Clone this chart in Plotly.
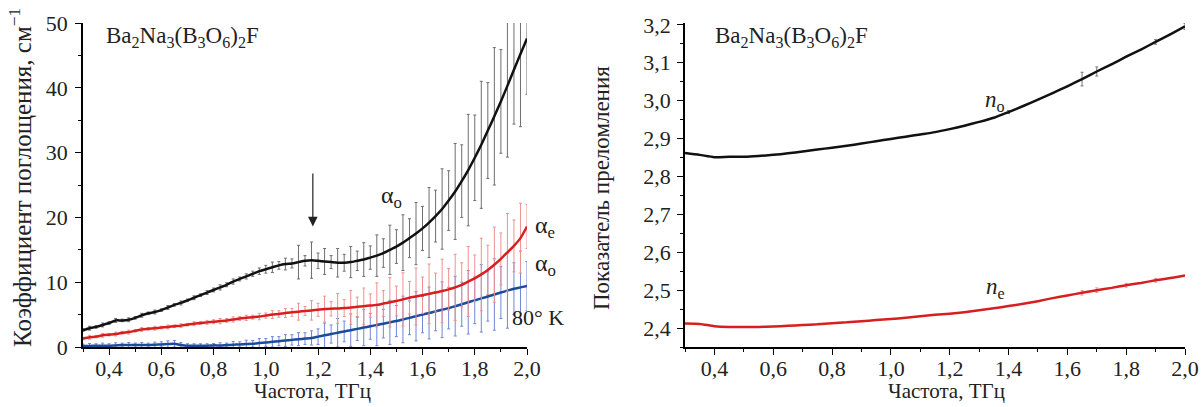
import plotly.graph_objects as go

# ---------------- data: left panel (absorption) ----------------
freq_a = [0.300, 0.325, 0.350, 0.375, 0.400, 0.425, 0.450, 0.475, 0.500, 0.525,
          0.550, 0.575, 0.600, 0.625, 0.650, 0.675, 0.700, 0.725, 0.750, 0.775,
          0.800, 0.825, 0.850, 0.875, 0.900, 0.925, 0.950, 0.975, 1.000, 1.025,
          1.050, 1.075, 1.100, 1.125, 1.150, 1.175, 1.200, 1.225, 1.250, 1.275,
          1.300, 1.325, 1.350, 1.375, 1.400, 1.425, 1.450, 1.475, 1.500, 1.525,
          1.550, 1.575, 1.600, 1.625, 1.650, 1.675, 1.700, 1.725, 1.750, 1.775,
          1.800, 1.825, 1.850, 1.875, 1.900, 1.925, 1.950, 1.975, 2.000]

alpha_o_room = [2.6, 2.9, 3.1, 3.4, 3.7, 4.1, 4.1, 4.2, 4.5, 4.9,
                5.2, 5.4, 5.7, 6.1, 6.5, 6.8, 7.2, 7.6, 8.0, 8.4,
                8.8, 9.2, 9.6, 10.1, 10.5, 10.9, 11.3, 11.7, 12.0, 12.3,
                12.6, 12.8, 12.9, 13.1, 13.3, 13.4, 13.3, 13.2, 13.1, 13.0,
                13.0, 13.1, 13.3, 13.5, 13.8, 14.1, 14.5, 15.0, 15.5, 16.1,
                16.8, 17.5, 18.3, 19.2, 20.2, 21.3, 22.6, 24.0, 25.6, 27.3,
                29.2, 31.2, 33.4, 35.6, 37.9, 40.3, 42.8, 45.2, 47.6]
alpha_o_room_err = [0.2, 0.3, 0.2, 0.3, 0.2, 0.3, 0.2, 0.3, 0.2, 0.3,
                    0.2, 0.3, 0.2, 0.3, 0.2, 0.3, 0.2, 0.3, 0.2, 0.3,
                    0.3, 0.4, 0.3, 0.4, 0.3, 0.4, 0.4, 0.5, 0.6, 0.8,
                    0.6, 0.9, 0.7, 2.6, 0.8, 2.8, 1.2, 2.0, 1.0, 2.2,
                    1.3, 2.4, 1.5, 2.6, 1.8, 3.2, 2.2, 3.8, 2.6, 4.3,
                    3.0, 4.8, 3.4, 5.4, 4.0, 6.2, 4.6, 7.4, 5.6, 8.6,
                    6.6, 9.8, 7.4, 10.6, 8.0, 11.0, 8.4, 11.2, 8.6]

alpha_e_room = [1.3, 1.5, 1.6, 1.8, 1.9, 2.0, 2.2, 2.3, 2.5, 2.7,
                2.8, 2.9, 3.0, 3.1, 3.2, 3.3, 3.45, 3.6, 3.7, 3.8,
                3.9, 4.0, 4.1, 4.25, 4.4, 4.5, 4.6, 4.7, 4.85, 5.0,
                5.1, 5.25, 5.35, 5.45, 5.55, 5.65, 5.75, 5.85, 5.9, 5.95,
                6.0, 6.1, 6.2, 6.3, 6.4, 6.5, 6.7, 6.9, 7.1, 7.35,
                7.6, 7.8, 8.0, 8.2, 8.4, 8.65, 8.9, 9.2, 9.6, 10.1,
                10.6, 11.2, 11.9, 12.7, 13.6, 14.6, 15.6, 16.8, 18.6]
alpha_e_room_err = [0.2, 0.3, 0.2, 0.3, 0.2, 0.3, 0.2, 0.3, 0.2, 0.3,
                    0.2, 0.3, 0.2, 0.3, 0.2, 0.3, 0.2, 0.3, 0.2, 0.3,
                    0.3, 0.4, 0.3, 0.4, 0.3, 0.4, 0.3, 0.5, 0.4, 0.6,
                    0.5, 0.7, 0.6, 1.3, 0.7, 1.5, 1.0, 2.0, 1.1, 2.3,
                    1.3, 2.6, 1.5, 2.8, 1.8, 3.4, 2.0, 3.8, 2.3, 4.1,
                    2.5, 4.4, 2.8, 4.6, 3.0, 4.9, 3.2, 5.1, 3.4, 5.4,
                    3.6, 5.6, 3.8, 5.8, 4.0, 6.0, 4.0, 5.4, 3.4]

alpha_o_80K = [0.15, 0.15, 0.2, 0.2, 0.2, 0.25, 0.3, 0.3, 0.3, 0.3,
               0.3, 0.35, 0.4, 0.45, 0.5, 0.3, 0.2, 0.2, 0.2, 0.2,
               0.25, 0.25, 0.3, 0.35, 0.4, 0.45, 0.5, 0.6, 0.7, 0.8,
               0.9, 1.0, 1.1, 1.2, 1.3, 1.4, 1.6, 1.8, 2.0, 2.2,
               2.4, 2.6, 2.8, 3.0, 3.2, 3.4, 3.6, 3.8, 4.0, 4.25,
               4.5, 4.75, 5.0, 5.25, 5.5, 5.75, 6.0, 6.3, 6.6, 6.9,
               7.2, 7.5, 7.8, 8.1, 8.4, 8.7, 9.0, 9.2, 9.4]
alpha_o_80K_err = [0.3, 0.4, 0.3, 0.4, 0.3, 0.4, 0.3, 0.4, 0.3, 0.4,
                   0.3, 0.4, 0.4, 0.5, 0.5, 0.4, 0.3, 0.3, 0.3, 0.3,
                   0.3, 0.4, 0.3, 0.5, 0.4, 0.6, 0.5, 0.7, 0.6, 0.8,
                   0.7, 0.9, 0.8, 1.0, 0.9, 1.1, 1.2, 1.9, 1.4, 2.2,
                   1.6, 2.5, 1.8, 2.8, 2.0, 3.2, 2.2, 3.4, 2.4, 3.6,
                   2.6, 3.8, 2.8, 4.0, 3.0, 4.3, 3.2, 4.6, 3.4, 4.9,
                   3.6, 5.2, 3.8, 5.5, 4.0, 5.8, 4.0, 5.6, 3.8]

# ---------------- data: right panel (refractive index) ----------------
freq_n = [0.30, 0.35, 0.40, 0.45, 0.50, 0.55, 0.60, 0.65, 0.70, 0.75,
          0.80, 0.85, 0.90, 0.95, 1.00, 1.05, 1.10, 1.15, 1.20, 1.25,
          1.30, 1.35, 1.40, 1.45, 1.50, 1.55, 1.60, 1.65, 1.70, 1.75,
          1.80, 1.85, 1.90, 1.95, 2.00]
n_o = [2.862, 2.857, 2.851, 2.852, 2.852, 2.854, 2.857, 2.861, 2.866, 2.871,
       2.876, 2.881, 2.887, 2.893, 2.899, 2.905, 2.911, 2.917, 2.925, 2.934,
       2.944, 2.955, 2.970, 2.986, 3.003, 3.020, 3.038, 3.057, 3.077, 3.096,
       3.116, 3.135, 3.155, 3.175, 3.196]
n_o_err = [0, 0, 0, 0, 0, 0, 0, 0, 0, 0,
           0, 0, 0, 0, 0, 0, 0, 0, 0, 0,
           0, 0, 0.004, 0, 0, 0, 0, 0.018, 0.012, 0,
           0, 0, 0.006, 0, 0.008]
n_e = [2.412, 2.411, 2.405, 2.403, 2.403, 2.403, 2.404, 2.406, 2.408, 2.410,
       2.413, 2.415, 2.418, 2.421, 2.424, 2.427, 2.431, 2.435, 2.438, 2.442,
       2.447, 2.452, 2.458, 2.464, 2.471, 2.479, 2.486, 2.493, 2.500, 2.506,
       2.513, 2.519, 2.526, 2.532, 2.539]
n_e_err = [0, 0, 0, 0, 0, 0, 0, 0, 0, 0,
           0, 0, 0, 0, 0, 0, 0, 0, 0, 0,
           0, 0, 0, 0, 0, 0, 0, 0.006, 0.006, 0,
           0.005, 0, 0.005, 0, 0]

x_ticks = [0.4, 0.6, 0.8, 1.0, 1.2, 1.4, 1.6, 1.8, 2.0]

FONT = "Liberation Serif"
TXT = "#222222"
BLACK = "#111111"
RED = "#d71f1f"
BLUE = "#1d4b9b"

fig = go.Figure()

def add_series(x, y, err, color, ecolor, xa, ya):
    fig.add_trace(go.Scatter(
        x=x, y=y, mode="lines", xaxis=xa, yaxis=ya,
        line=dict(color=color, width=2.5, shape="spline", smoothing=0.6),
        error_y=dict(type="data", array=err, visible=True,
                     color=ecolor, thickness=1, width=1.5),
        showlegend=False, hoverinfo="x+y"))

add_series(freq_a, alpha_o_80K, alpha_o_80K_err, BLUE, "#6f86d8", "x", "y")
add_series(freq_a, alpha_e_room, alpha_e_room_err, RED, "#f09090", "x", "y")
add_series(freq_a, alpha_o_room, alpha_o_room_err, BLACK, "#6e6e6e", "x", "y")
add_series(freq_n, n_o, n_o_err, BLACK, "#777777", "x2", "y2")
add_series(freq_n, n_e, n_e_err, RED, "#f09090", "x2", "y2")

W, H = 1204, 407
top_px, bot_px = 23, 347
ydom = [1 - bot_px / H, 1 - top_px / H]

def minor(dt, t0):
    return dict(dtick=dt, tick0=t0, ticks="outside", ticklen=3.5,
                tickcolor="black", tickwidth=1.2)

axis_common = dict(
    showline=True, linecolor="black", linewidth=1.5, mirror=False,
    showgrid=False, zeroline=False, automargin=False,
    ticks="outside", ticklen=6, tickwidth=1.3, tickcolor="black",
    tickfont=dict(family=FONT, size=22, color=TXT),
)

fig.update_layout(
    width=W, height=H, autosize=False,
    margin=dict(l=0, r=0, t=0, b=0, pad=0, autoexpand=False),
    paper_bgcolor="white", plot_bgcolor="white",
    separators=", ",
    font=dict(family=FONT, size=21, color=TXT),
    xaxis=dict(domain=[83 / W, 527 / W], range=[0.3, 2.0], anchor="y",
               tickvals=x_ticks, tickformat=".1f", minor=minor(0.1, 0.3),
               ticklabelposition="outside", ticklabelstandoff=-5,
               **axis_common),
    yaxis=dict(domain=ydom, range=[0, 50], anchor="x",
               dtick=10, tick0=0, minor=minor(5, 0),
               ticklabelposition="outside", ticklabelstandoff=3,
               **axis_common),
    xaxis2=dict(domain=[685 / W, 1185 / W], range=[0.3, 2.0], anchor="y2",
                tickvals=x_ticks, tickformat=".1f", minor=minor(0.1, 0.3),
                ticklabelposition="outside", ticklabelstandoff=-5,
                **axis_common),
    yaxis2=dict(domain=ydom, range=[2.35, 3.205], anchor="x2",
                dtick=0.1, tick0=2.4, tickformat=".1f", minor=minor(0.05, 2.35),
                ticklabelposition="outside", ticklabelstandoff=2,
                **axis_common),
)

def px_x(p):
    return p / W

def px_y(p):
    return 1 - p / H

formula = "Ba<sub>2</sub>Na<sub>3</sub>(B<sub>3</sub>O<sub>6</sub>)<sub>2</sub>F"
ann = []
# panel titles
for xl in (104, 713):
    ann.append(dict(text=formula, xref="paper", yref="paper", x=px_x(xl), y=px_y(37),
                    xanchor="left", yanchor="middle", showarrow=False,
                    font=dict(family=FONT, size=23, color=TXT)))
# axis titles
ann.append(dict(text="Коэффициент поглощения, см<sup>−1</sup>", xref="paper", yref="paper",
                x=px_x(20), y=px_y(178), textangle=-90, showarrow=False,
                xanchor="center", yanchor="middle",
                font=dict(family=FONT, size=25, color=TXT)))
ann.append(dict(text="Показатель преломления", xref="paper", yref="paper",
                x=px_x(601), y=px_y(188), textangle=-90, showarrow=False,
                xanchor="center", yanchor="middle",
                font=dict(family=FONT, size=23, color=TXT)))
for xc in (312, 946):
    ann.append(dict(text="Частота, ТГц", xref="paper", yref="paper",
                    x=px_x(xc), y=px_y(391), showarrow=False,
                    xanchor="center", yanchor="middle",
                    font=dict(family=FONT, size=21, color=TXT)))
# curve labels, left
ann.append(dict(text="α<sub>o</sub>", xref="x", yref="y", x=1.48, y=23.2,
                showarrow=False, font=dict(family=FONT, size=24, color=TXT)))
ann.append(dict(text="α<sub>e</sub>", xref="paper", yref="paper", x=px_x(545), y=px_y(227),
                showarrow=False, font=dict(family=FONT, size=24, color=TXT)))
ann.append(dict(text="α<sub>o</sub>", xref="paper", yref="paper", x=px_x(545), y=px_y(282),
                showarrow=False, font=dict(family=FONT, size=24, color=TXT)))
ann.append(dict(text="80° K", xref="paper", yref="paper", x=px_x(538), y=px_y(332),
                showarrow=False, font=dict(family=FONT, size=22, color=TXT)))
# arrow
ann.append(dict(text="", xref="x", yref="y", x=1.18, y=18.6, axref="x", ayref="y",
                ax=1.18, ay=27.0, showarrow=True, arrowhead=2, arrowsize=1.6,
                arrowwidth=1.2, arrowcolor=TXT))
# curve labels, right
ann.append(dict(text="<i>n</i><sub>o</sub>", xref="x2", yref="y2", x=1.355, y=2.998,
                showarrow=False, font=dict(family=FONT, size=23, color=TXT)))
ann.append(dict(text="<i>n</i><sub>e</sub>", xref="x2", yref="y2", x=1.355, y=2.505,
                showarrow=False, font=dict(family=FONT, size=23, color=TXT)))
fig.update_layout(annotations=ann)

fig.write_html("out.html",
               config={"displayModeBar": False},
               post_script="document.body.style.margin='0px';"
                           "document.body.style.padding='0px';"
                           "document.body.style.overflow='hidden';")
